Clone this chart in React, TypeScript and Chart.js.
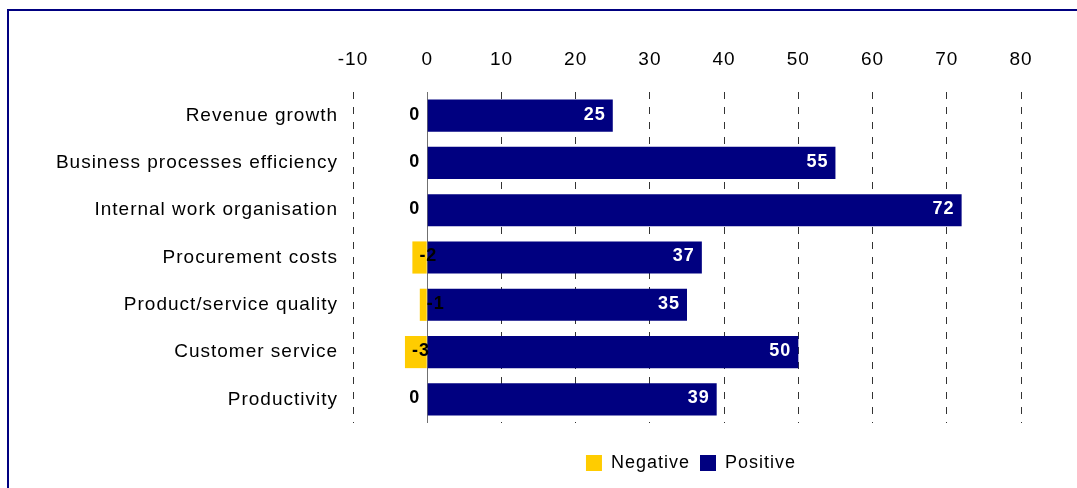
import React, { useEffect, useRef } from 'react';
import { Chart, registerables } from 'chart.js';

Chart.register(...registerables);

const categories = [
  'Revenue growth',
  'Business processes efficiency',
  'Internal work organisation',
  'Procurement costs',
  'Product/service quality',
  'Customer service',
  'Productivity',
];
const negativeValues = [0, 0, 0, -2, -1, -3, 0];
const positiveValues = [25, 55, 72, 37, 35, 50, 39];
const seriesNames = ['Negative', 'Positive'];
const xMin = -10;
const xMax = 80;
const xStep = 10;

const FONT = '"Liberation Sans", Arial, sans-serif';
const NAVY = '#000080';
const GOLD = '#FFCC00';

const spacingPlugin = {
  id: 'spacing',
  beforeUpdate(chart: any) {
    chart.ctx.letterSpacing = '1px';
  },
  beforeDraw(chart: any) {
    chart.ctx.letterSpacing = '1px';
    const lg = chart.legend;
    if (lg) {
      lg.left = chart.chartArea.left + 4;
      lg.right = chart.chartArea.right + 4;
    }
  },
};

const zeroLinePlugin = {
  id: 'zeroLine',
  beforeDatasetsDraw(chart: any) {
    const { ctx, chartArea, scales } = chart;
    const x = Math.round(scales.x.getPixelForValue(0)) + 0.5;
    ctx.save();
    ctx.strokeStyle = '#707070';
    ctx.lineWidth = 1;
    ctx.beginPath();
    ctx.moveTo(x, chartArea.top);
    ctx.lineTo(x, chartArea.bottom);
    ctx.stroke();
    ctx.restore();
  },
};

const labelPlugin = {
  id: 'barLabels',
  afterDatasetsDraw(chart: any) {
    const { ctx, scales } = chart;
    ctx.save();
    ctx.letterSpacing = '1px';
    ctx.font = `bold 18px ${FONT}`;
    ctx.textBaseline = 'middle';
    const negMeta = chart.getDatasetMeta(0);
    negMeta.data.forEach((el: any, i: number) => {
      const v = negativeValues[i];
      ctx.fillStyle = '#000';
      if (v === 0) {
        ctx.textAlign = 'right';
        ctx.fillText(String(v), scales.x.getPixelForValue(0) - 7, el.y - 1);
      } else {
        ctx.textAlign = 'left';
        ctx.fillText(String(v), scales.x.getPixelForValue(v) + 7, el.y - 1);
      }
    });
    const posMeta = chart.getDatasetMeta(1);
    posMeta.data.forEach((el: any, i: number) => {
      const v = positiveValues[i];
      ctx.fillStyle = '#fff';
      ctx.textAlign = 'right';
      ctx.fillText(String(v), el.x - 7, el.y - 1);
    });
    ctx.restore();
  },
};

export default function App() {
  const ref = useRef<HTMLCanvasElement>(null);

  useEffect(() => {
    const canvas = ref.current;
    if (!canvas) return;
    const chart = new Chart(canvas, {
      type: 'bar',
      data: {
        labels: categories,
        datasets: [
          {
            label: seriesNames[0],
            data: negativeValues,
            backgroundColor: GOLD,
            borderWidth: 0,
            barPercentage: 0.68,
            categoryPercentage: 1,
          },
          {
            label: seriesNames[1],
            data: positiveValues,
            backgroundColor: NAVY,
            borderWidth: 0,
            barPercentage: 0.68,
            categoryPercentage: 1,
          },
        ],
      },
      options: {
        indexAxis: 'y',
        responsive: false,
        animation: false,
        devicePixelRatio: 1,
        layout: { padding: { left: 0, right: 56, top: 0, bottom: 6 } },
        scales: {
          x: {
            position: 'top',
            stacked: true,
            min: xMin,
            max: xMax,
            ticks: {
              stepSize: xStep,
              color: '#000',
              padding: 21,
              font: { family: FONT, size: 19 },
            },
            grid: {
              color: '#333333',
              lineWidth: 1,
              drawTicks: false,
            },
            border: { display: false, dash: [7, 8] },
            afterFit(scale: any) {
              scale.height = 92;
            },
          },
          y: {
            stacked: true,
            ticks: {
              color: '#000',
              padding: 15,
              font: { family: FONT, size: 19 },
            },
            grid: { display: false, drawTicks: false },
            border: { display: false },
            afterFit(scale: any) {
              scale.width = 353;
            },
          },
        },
        plugins: {
          tooltip: { enabled: false },
          legend: {
            position: 'bottom',
            title: {
              display: true,
              text: '',
              padding: { top: 9, bottom: 0 },
              font: { size: 10, family: FONT },
            },
            labels: {
              boxWidth: 16,
              boxHeight: 16,
              padding: 10,
              color: '#000',
              font: { family: FONT, size: 18 },
            },
          },
        },
      },
      plugins: [spacingPlugin, zeroLinePlugin, labelPlugin],
    } as any);
    return () => chart.destroy();
  }, []);

  return (
    <div
      style={{
        position: 'fixed',
        left: 0,
        top: 0,
        width: 1077,
        height: 488,
        overflow: 'hidden',
        background: '#fff',
      }}
    >
      <div
        style={{
          position: 'absolute',
          left: 7,
          top: 9,
          width: 1200,
          height: 600,
          border: '2px solid #000080',
          boxSizing: 'border-box',
        }}
      />
      <canvas
        ref={ref}
        width={1077}
        height={488}
        style={{ position: 'absolute', left: 0, top: 0, width: 1077, height: 488 }}
      />
    </div>
  );
}
